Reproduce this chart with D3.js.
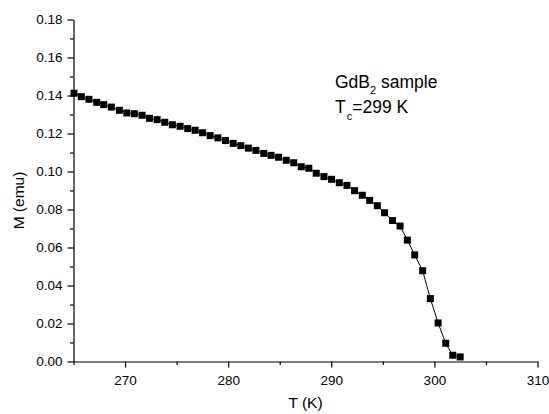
<!DOCTYPE html>
<html>
<head>
<meta charset="utf-8">
<script src="https://cdn.jsdelivr.net/npm/d3@7"></script>
<style>
  body { margin: 0; background: #fff; }
  svg text { font-family: Arial, "Liberation Sans", sans-serif; fill: #000; }
  .axis path, .axis line { stroke: #000; stroke-width: 1.2; }
</style>
</head>
<body>
<div id="chart"></div>
<script>
// temperature (K)
var temps = [265.05, 265.76, 266.50, 267.25, 267.93, 268.67, 269.45, 270.17, 270.90, 271.65,
             272.36, 273.11, 273.85, 274.59, 275.34, 276.07, 276.80, 277.52, 278.25, 279.00,
             279.74, 280.49, 281.23, 281.96, 282.69, 283.45, 284.16, 284.88, 285.63, 286.36,
             287.09, 287.82, 288.54, 289.29, 290.03, 290.78, 291.52, 292.26, 293.01, 293.72,
             294.47, 295.17, 295.94, 296.67, 297.38, 298.09, 298.86, 299.61, 300.36, 301.10,
             301.78, 302.50];
// magnetization (emu)
var moment = [0.1412, 0.1394, 0.1380, 0.1364, 0.1352, 0.1339, 0.1322, 0.1308, 0.1304, 0.1296,
              0.1280, 0.1273, 0.1259, 0.1246, 0.1238, 0.1226, 0.1217, 0.1204, 0.1189, 0.1177,
              0.1163, 0.1148, 0.1136, 0.1123, 0.1111, 0.1095, 0.1085, 0.1075, 0.1059, 0.1046,
              0.1025, 0.1017, 0.0991, 0.0973, 0.0959, 0.0941, 0.0927, 0.0899, 0.0875, 0.0848,
              0.0820, 0.0783, 0.0742, 0.0713, 0.0639, 0.0561, 0.0478, 0.0331, 0.0203, 0.0096,
              0.0033, 0.0024];
var xTicks = [270, 280, 290, 300, 310];
var yTicks = [0.00, 0.02, 0.04, 0.06, 0.08, 0.10, 0.12, 0.14, 0.16, 0.18];

var width = 549, height = 414;
var m = {left: 73.5, right: 537.5, top: 19.5, bottom: 361.5};

var data = temps.map(function(t, i) { return {t: t, m: moment[i]}; });

var svg = d3.select("#chart").append("svg")
            .attr("width", width)
            .attr("height", height);

var xScale = d3.scaleLinear().domain([265, 310]).range([m.left, m.right]);
var yScale = d3.scaleLinear().domain([0, 0.18]).range([m.bottom, m.top]);

// minor ticks first so the major ones sit on top
var xMinor = d3.range(265, 311, 5).filter(function(d) { return xTicks.indexOf(d) < 0; });
var yMinor = d3.range(0.01, 0.18, 0.02);

svg.append("g")
   .attr("class", "axis")
   .attr("transform", "translate(0," + m.bottom + ")")
   .call(d3.axisBottom(xScale).tickValues(xMinor).tickSize(3.5).tickFormat(""))
   .select(".domain").remove();

svg.append("g")
   .attr("class", "axis")
   .attr("transform", "translate(" + m.left + ",0)")
   .call(d3.axisLeft(yScale).tickValues(yMinor).tickSize(3.5).tickFormat(""))
   .select(".domain").remove();

var xAxis = svg.append("g")
   .attr("class", "axis")
   .attr("transform", "translate(0," + m.bottom + ")")
   .call(d3.axisBottom(xScale).tickValues(xTicks).tickSize(6).tickSizeOuter(0)
           .tickFormat(d3.format("d")));
xAxis.attr("font-size", null);
xAxis.selectAll("text").attr("font-size", "13.5px").attr("dy", "1.05em");

var yAxis = svg.append("g")
   .attr("class", "axis")
   .attr("transform", "translate(" + m.left + ",0)")
   .call(d3.axisLeft(yScale).tickValues(yTicks).tickSize(6).tickSizeOuter(0)
           .tickFormat(d3.format(".2f")));
yAxis.attr("font-size", null);
yAxis.selectAll("text").attr("font-size", "13.5px").attr("x", -11);

svg.selectAll(".axis").attr("font-family", null);

// connecting line
var line = d3.line()
             .x(function(d) { return xScale(d.t); })
             .y(function(d) { return yScale(d.m); });

svg.append("path")
   .datum(data)
   .attr("fill", "none")
   .attr("stroke", "#000")
   .attr("stroke-width", 1)
   .attr("d", line);

// square markers
var sq = 7;
svg.append("g")
   .selectAll("rect")
   .data(data)
   .enter().append("rect")
   .attr("x", function(d) { return xScale(d.t) - sq / 2; })
   .attr("y", function(d) { return yScale(d.m) - sq / 2; })
   .attr("width", sq)
   .attr("height", sq)
   .attr("fill", "#000");

// axis titles
svg.append("text")
   .attr("x", (m.left + m.right) / 2)
   .attr("y", 408)
   .attr("text-anchor", "middle")
   .attr("font-size", "15.5px")
   .text("T (K)");

svg.append("text")
   .attr("transform", "translate(24," + ((m.top + m.bottom) / 2 + 10) + ") rotate(-90)")
   .attr("text-anchor", "middle")
   .attr("font-size", "15.5px")
   .text("M (emu)");

// annotation
var note = svg.append("text").attr("x", 335).attr("y", 88).attr("font-size", "17.5px");
note.append("tspan").text("GdB");
note.append("tspan").attr("font-size", "11px").attr("dy", 6).text("2");
note.append("tspan").attr("dy", -6).text(" sample");

var note2 = svg.append("text").attr("x", 335).attr("y", 113).attr("font-size", "17.5px");
note2.append("tspan").text("T");
note2.append("tspan").attr("font-size", "11px").attr("dy", 7).attr("dx", 1).text("c");
note2.append("tspan").attr("dy", -7).text("=299 K");
</script>
</body>
</html>
